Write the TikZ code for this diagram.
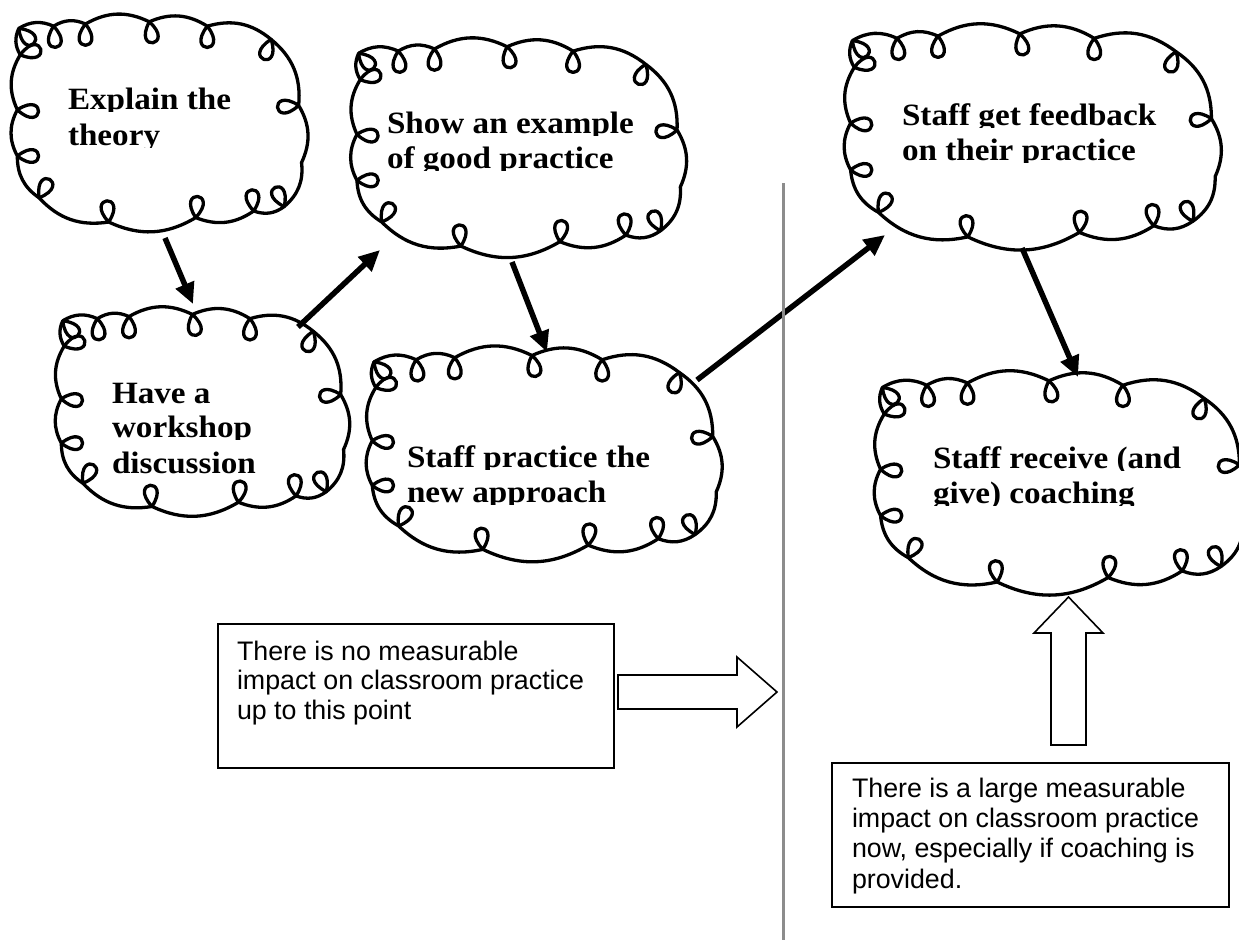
\documentclass[tikz,border=0pt]{standalone}
\usepackage{fontspec}
\setmainfont{Liberation Sans}
\newfontfamily\cloudfont{Liberation Serif}[FakeStretch=1.07]
\usetikzlibrary{arrows.meta}

% junction points of the cloud outline: index / u / v / loop direction / has loop
\def\cloudpts{1/0.02/0.07/315/1, 2/0.14/0.06/275/1, 3/0.25/0.05/270/1, 4/0.47/0.04/280/1, 5/0.67/0.06/270/1, 6/0.89/0.12/250/1, 7/0.985/0.42/185/1, 8/0.995/0.68/0/0, 9/0.935/0.88/115/1, 10/0.83/0.90/95/1, 11/0.63/0.93/85/1, 12/0.33/0.95/95/1, 13/0.09/0.84/60/1, 14/0.015/0.65/0/1, 15/0.015/0.44/355/1, 16/0.025/0.19/15/1}

\tikzset{
  cloudline/.style={line width=3.3pt, line join=round, line cap=round},
  ctext/.style={font=\cloudfont\bfseries\fontsize{31}{35}\selectfont, anchor=base west, inner sep=0pt, outer sep=0pt},
  btext/.style={font=\fontsize{26.8}{30}\selectfont, anchor=base west, inner sep=0pt, outer sep=0pt},
  boxframe/.style={draw, line width=1.6pt, inner sep=0pt, anchor=north west},
  blockarrow/.style={draw, line width=1.6pt, fill=white, line join=miter},
  flow/.style={line width=5.5pt, -{Triangle[length=21pt,width=19pt]}},
  divider/.style={line width=3pt, draw={rgb,255:red,140;green,140;blue,140}},
}

\newcommand{\drawcloud}[5]{%
  \node[minimum width=#4, minimum height=#5, anchor=north west, inner sep=0pt, outer sep=0pt] (#1) at (#2,-#3) {};
  \begin{scope}[shift={(#2,-#3)}]
    \foreach \i/\u/\v/\d/\l in \cloudpts {\coordinate (#1-\i) at ({\u*#4},{-\v*#5});}
    \draw[cloudline] (#1-1) \foreach \i in {2,...,16} {to[bend left=28] (#1-\i)} to[bend left=28] (#1-1);
    \foreach \i/\u/\v/\d/\l in \cloudpts {\ifnum\l=1 \draw[cloudline] (#1-\i) .. controls +({\d-38}:36) and +({\d+38}:36) .. (#1-\i);\fi}
  \end{scope}}

\newcommand{\cloudtext}[4]{%
  \begin{scope}
    \clip ({#2-6},{-#3-2}) rectangle ({#2+420},{-#3+40});
    \node[ctext] (#1) at (#2,-#3) {#4};
  \end{scope}}

\begin{document}
\begin{tikzpicture}[x=1pt,y=1pt]
\useasboundingbox (0,0) rectangle (1239,-943);

% clouds
\drawcloud{C1}{13}{13}{290}{220}
\drawcloud{C2}{352}{38}{330}{219}
\drawcloud{C3}{845}{25}{372}{223}
\drawcloud{C4}{57}{306}{288}{211}
\drawcloud{C5}{367}{347}{351}{213}
\drawcloud{C6}{875}{372}{370}{221}

% cloud texts (clipped just below the baseline, as printed)
\cloudtext{t1a}{68}{109}{Explain the}
\cloudtext{t1b}{68}{145}{theory}
\cloudtext{t2a}{387}{133}{Show an example}
\cloudtext{t2b}{387}{168}{of good practice}
\cloudtext{t3a}{902}{125}{Staff get feedback}
\cloudtext{t3b}{902}{160}{on their practice}
\cloudtext{t4a}{112}{403}{Have a}
\cloudtext{t4b}{112}{437}{workshop}
\cloudtext{t4c}{112}{473}{discussion}
\cloudtext{t5a}{407}{467}{Staff practice the}
\cloudtext{t5b}{407}{502}{new approach}
\cloudtext{t6a}{933}{468}{Staff receive (and}
\cloudtext{t6b}{933}{503}{give) coaching}

% arrow end points on the clouds
\coordinate (a1s) at (165,-238);  \coordinate (a1e) at (193,-304);
\coordinate (a2s) at (298,-327);  \coordinate (a2e) at (380,-250);
\coordinate (a3s) at (512,-262);  \coordinate (a3e) at (547,-352);
\coordinate (a4s) at (697,-380);  \coordinate (a4e) at (885,-235);
\coordinate (a5s) at (1022,-248); \coordinate (a5e) at (1078,-377);

\draw[flow] (a1s) -- (a1e);
\draw[flow] (a2s) -- (a2e);
\draw[flow] (a3s) -- (a3e);
\draw[flow] (a4s) -- (a4e);
\draw[flow] (a5s) -- (a5e);

% divider
\coordinate (dtop) at (783,-183);
\coordinate (dbot) at (783,-940);
\draw[divider] (dtop) -- (dbot);

% text boxes
\node[boxframe, minimum width=396, minimum height=144] (box1) at (217,-623) {};
\node[btext] (b1a) at (237,-660) {There is no measurable};
\node[btext] (b1b) at (237,-689) {impact on classroom practice};
\node[btext] (b1c) at (237,-719) {up to this point};

\node[boxframe, minimum width=397, minimum height=144] (box2) at (831,-762) {};
\node[btext] (b2a) at (852,-797) {There is a large measurable};
\node[btext] (b2b) at (852,-827) {impact on classroom practice};
\node[btext] (b2c) at (852,-857) {now, especially if coaching is};
\node[btext] (b2d) at (852,-888) {provided.};

% block arrows
\draw[blockarrow] (618,-675) -- (737,-675) -- (737,-657) -- (777,-692) -- (737,-727) -- (737,-709) -- (618,-709) -- cycle;
\draw[blockarrow] (1051,-745) -- (1051,-633) -- (1034,-633) -- (1068.5,-597) -- (1103,-633) -- (1086,-633) -- (1086,-745) -- cycle;
\end{tikzpicture}
\end{document}
